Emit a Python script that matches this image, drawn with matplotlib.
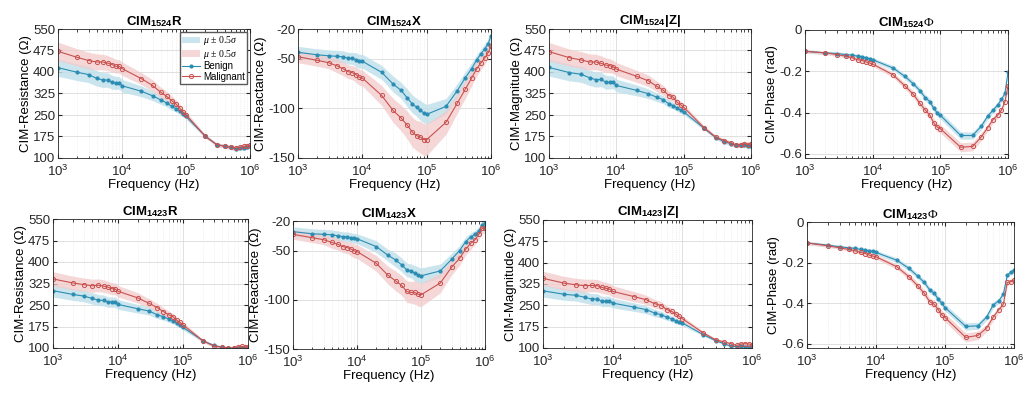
import numpy as np
import matplotlib
matplotlib.use("Agg")
import matplotlib.pyplot as plt
from matplotlib.ticker import LogLocator, FixedLocator, NullFormatter

plt.rcParams["font.family"] = ["Liberation Sans", "DejaVu Sans"]
plt.rcParams["mathtext.fontset"] = "custom"
plt.rcParams["mathtext.rm"] = "Liberation Serif"
plt.rcParams["mathtext.it"] = "Liberation Serif:italic"
plt.rcParams["mathtext.bf"] = "Liberation Sans:bold"

# measurement frequencies (Hz)
freq = [1e3, 2e3, 3e3, 4e3, 5e3, 6e3, 7e3, 8e3, 9e3,
        1e4, 2e4, 3e4, 4e4, 5e4, 6e4, 7e4, 8e4, 9e4,
        1e5, 2e5, 3e5, 4e5, 5e5, 6e5, 7e5, 8e5, 9e5, 1e6]

# ---- CIM 1524 ------------------------------------------------------------
r1524_ben = [415, 399, 391, 378, 372, 372, 364, 362, 362, 352, 333, 317, 303, 292,
             280, 272, 263, 255, 245, 176, 147, 141, 137, 131, 135, 135, 138, 141]
r1524_mal = [472, 451, 440, 435, 435, 431, 426, 420, 420, 412, 377, 353, 330, 315,
             300, 288, 274, 260, 251, 176, 147, 141, 138, 135, 137, 141, 141, 144]
r1524_ben_sd = [30, 29, 28, 27, 26, 25, 24, 23, 22, 22, 19, 17, 15, 14,
                13, 12, 11, 11, 10, 6, 6, 7, 7, 8, 8, 8, 8, 9]
r1524_mal_sd = [32, 30, 29, 28, 27, 26, 25, 24, 23, 23, 21, 20, 18, 17,
                16, 14, 13, 12, 11, 6, 6, 7, 7, 8, 8, 9, 9, 10]

x1524_ben = [-43.5, -46, -47, -47.5, -48, -49.5, -49.5, -51, -52.5, -52.5, -63.7, -75.4, -81.8, -89.5,
             -95.6, -99, -102, -104.6, -106, -98, -82, -69, -60, -51, -45, -40, -35, -27]
x1524_mal = [-48, -51.6, -54, -57, -60, -63, -64, -66, -68.7, -69.4, -87, -102, -109.7, -117,
             -124, -127.5, -129, -131.5, -131.5, -114, -94.6, -80.5, -69.4, -60, -54, -49, -44, -37]
x1524_ben_sd = [6, 6, 6, 6, 6, 6, 6, 7, 7, 7, 7, 8, 8, 9,
                9, 9, 10, 10, 10, 8, 7, 6, 6, 5, 5, 5, 5, 5]
x1524_mal_sd = [6, 6, 6, 7, 7, 7, 7, 8, 8, 8, 10, 12, 13, 14,
                15, 15, 16, 16, 16, 12, 10, 9, 8, 7, 7, 6, 6, 6]

z1524_ben = [416, 398, 392, 380, 373, 374, 364, 364, 364, 353, 336, 324, 312, 303,
             289, 283, 274, 267, 261, 204, 171, 157, 150, 144, 144, 145, 141, 141]
z1524_mal = [471, 450, 442, 435, 435, 430, 424, 422, 418, 410, 385, 369, 350, 336,
             318, 312, 294, 286, 277, 206, 173, 161, 153, 145, 147, 150, 147, 150]
z1524_ben_sd = [30, 29, 28, 27, 26, 25, 24, 23, 22, 22, 19, 17, 15, 14,
                13, 12, 11, 11, 10, 6, 6, 7, 7, 8, 8, 8, 8, 9]
z1524_mal_sd = [32, 30, 29, 28, 27, 26, 25, 24, 23, 23, 21, 20, 18, 17,
                16, 14, 13, 12, 11, 7, 6, 7, 7, 8, 8, 9, 9, 10]

p1524_ben = [-0.103, -0.111, -0.114, -0.119, -0.122, -0.127, -0.130, -0.135, -0.139, -0.144,
             -0.184, -0.225, -0.261, -0.294, -0.328, -0.347, -0.380, -0.401, -0.413,
             -0.511, -0.511, -0.467, -0.418, -0.388, -0.364, -0.336, -0.307, -0.205]
p1524_mal = [-0.103, -0.111, -0.119, -0.127, -0.135, -0.144, -0.148, -0.155, -0.160, -0.165,
             -0.217, -0.271, -0.312, -0.356, -0.388, -0.413, -0.450, -0.470, -0.478,
             -0.568, -0.564, -0.519, -0.473, -0.434, -0.413, -0.388, -0.347, -0.271]
p1524_ben_sd = [0.008, 0.008, 0.008, 0.008, 0.009, 0.009, 0.009, 0.010, 0.010, 0.010,
                0.012, 0.013, 0.014, 0.015, 0.015, 0.016, 0.016, 0.016, 0.017,
                0.018, 0.017, 0.016, 0.015, 0.014, 0.013, 0.012, 0.012, 0.012]
p1524_mal_sd = [0.008, 0.008, 0.008, 0.009, 0.009, 0.010, 0.010, 0.010, 0.011, 0.011,
                0.013, 0.015, 0.016, 0.018, 0.019, 0.020, 0.020, 0.021, 0.021,
                0.022, 0.021, 0.019, 0.017, 0.016, 0.015, 0.014, 0.013, 0.013]

# ---- CIM 1423 ------------------------------------------------------------
r1423_ben = [300, 287, 281, 273, 267, 266, 260, 260, 260, 252, 237, 229, 216, 209,
             201, 195, 186, 180, 172, 126, 109, 103, 101, 100, 100, 100, 101, 101]
r1423_mal = [341, 327, 321, 317, 319, 316, 312, 307, 306, 298, 275, 256, 241, 227,
             216, 209, 197, 189, 181, 126, 106, 103, 100, 100, 103, 106, 103, 103]
r1423_ben_sd = [22, 21, 20, 20, 19, 19, 18, 18, 18, 17, 15, 14, 13, 12,
                11, 10, 10, 9, 9, 5, 4, 4, 4, 4, 5, 5, 5, 5]
r1423_mal_sd = [25, 24, 23, 23, 22, 22, 21, 21, 20, 20, 18, 16, 15, 14,
                13, 12, 11, 10, 10, 6, 4, 4, 4, 4, 5, 5, 5, 5]

x1423_ben = [-30.8, -33, -33.5, -34, -35, -36, -36, -37, -37.6, -38, -46, -54.5, -59.5, -64.6,
             -69.7, -70.7, -73, -74.7, -75.7, -70.7, -59, -50, -41, -36, -33.5, -30, -24, -22.4]
x1423_mal = [-33.5, -37, -39, -41.6, -43.6, -46, -47, -48.4, -50.4, -51, -63, -74.7, -80.8, -85.5,
             -91.6, -92.6, -92.6, -94.3, -95, -83, -67, -58, -48.4, -42.6, -39, -33.5, -27.4, -27.4]
x1423_ben_sd = [5, 5, 5, 5, 5, 5, 5, 5, 5, 5, 6, 6, 7, 7,
                7, 7, 8, 8, 8, 7, 6, 5, 5, 4, 4, 4, 4, 4]
x1423_mal_sd = [5, 5, 5, 6, 6, 6, 6, 7, 7, 7, 8, 9, 10, 10,
                11, 11, 12, 12, 12, 10, 8, 7, 6, 6, 5, 5, 5, 5]

z1423_ben = [301, 289, 285, 278, 272, 272, 264, 264, 264, 258, 244, 235, 223, 217,
             208, 203, 196, 191, 188, 147, 126, 115, 106, 105, 106, 105, 104, 105]
z1423_mal = [345, 328, 322, 319, 320, 319, 313, 310, 307, 299, 281, 270, 256, 249,
             235, 229, 220, 211, 203, 153, 129, 121, 115, 109, 114, 115, 114, 112]
z1423_ben_sd = [22, 21, 20, 20, 19, 19, 18, 18, 18, 17, 15, 14, 13, 12,
                11, 10, 10, 9, 9, 5, 4, 4, 4, 4, 5, 5, 5, 5]
z1423_mal_sd = [25, 24, 23, 23, 22, 22, 21, 21, 20, 20, 18, 16, 15, 14,
                13, 12, 11, 10, 10, 6, 5, 5, 5, 5, 5, 6, 6, 6]

p1423_ben = [-0.103, -0.114, -0.122, -0.127, -0.130, -0.135, -0.139, -0.142, -0.144, -0.150,
             -0.188, -0.228, -0.266, -0.297, -0.334, -0.351, -0.380, -0.400, -0.421,
             -0.514, -0.511, -0.468, -0.408, -0.388, -0.356, -0.261, -0.248, -0.237]
p1423_mal = [-0.103, -0.117, -0.127, -0.135, -0.142, -0.150, -0.155, -0.163, -0.168, -0.171,
             -0.220, -0.269, -0.313, -0.351, -0.392, -0.405, -0.432, -0.457, -0.470,
             -0.568, -0.558, -0.522, -0.468, -0.432, -0.405, -0.297, -0.294, -0.285]
p1423_ben_sd = p1524_ben_sd
p1423_mal_sd = p1524_mal_sd

BLUE = "#2b8db3"
BLUE_FILL = "#c2e1ec"
RED = "#c9514f"
RED_FILL = "#f2caca"

r_ticks = [100, 175, 250, 325, 400, 475, 550]
x_ticks = [-150, -100, -50, -20]
p_ticks = [-0.6, -0.4, -0.2, 0]

panels = [
    # (position in pixels: left, top, width, height), title, ylabel, data, ylim, yticks
    ((58, 29, 192, 129), r"$\mathbf{CIM}_{\mathbf{1524}}\mathbf{R}$", "CIM-Resistance (Ω)",
     (r1524_ben, r1524_ben_sd, r1524_mal, r1524_mal_sd), (100, 550), r_ticks),
    ((298, 29, 193, 129), r"$\mathbf{CIM}_{\mathbf{1524}}\mathbf{X}$", "CIM-Reactance (Ω)",
     (x1524_ben, x1524_ben_sd, x1524_mal, x1524_mal_sd), (-150, -20), x_ticks),
    ((549, 29, 202, 129), r"$\mathbf{CIM}_{\mathbf{1524}}\mathbf{|Z|}$", "CIM-Magnitude (Ω)",
     (z1524_ben, z1524_ben_sd, z1524_mal, z1524_mal_sd), (100, 550), r_ticks),
    ((805, 30, 203, 128), r"$\mathbf{CIM}_{\mathbf{1524}}\Phi$", "CIM-Phase (rad)",
     (p1524_ben, p1524_ben_sd, p1524_mal, p1524_mal_sd), (-0.62, 0), p_ticks),
    ((53, 219, 195, 129), r"$\mathbf{CIM}_{\mathbf{1423}}\mathbf{R}$", "CIM-Resistance (Ω)",
     (r1423_ben, r1423_ben_sd, r1423_mal, r1423_mal_sd), (100, 550), r_ticks),
    ((293, 221, 192, 128), r"$\mathbf{CIM}_{\mathbf{1423}}\mathbf{X}$", "CIM-Reactance (Ω)",
     (x1423_ben, x1423_ben_sd, x1423_mal, x1423_mal_sd), (-150, -20), x_ticks),
    ((543, 220, 209, 128), r"$\mathbf{CIM}_{\mathbf{1423}}\mathbf{|Z|}$", "CIM-Magnitude (Ω)",
     (z1423_ben, z1423_ben_sd, z1423_mal, z1423_mal_sd), (100, 550), r_ticks),
    ((807, 222, 207, 126), r"$\mathbf{CIM}_{\mathbf{1423}}\Phi$", "CIM-Phase (rad)",
     (p1423_ben, p1423_ben_sd, p1423_mal, p1423_mal_sd), (-0.62, 0), p_ticks),
]

W, H = 1029, 393
fig = plt.figure(figsize=(W / 100, H / 100), dpi=100)
f = np.array(freq)

for i, ((left, top, w, h), title, ylabel, (ben, ben_sd, mal, mal_sd), ylim, yticks) in enumerate(panels):
    ax = fig.add_axes([left / W, 1 - (top + h) / H, w / W, h / H])
    ben, ben_sd = np.array(ben), np.array(ben_sd)
    mal, mal_sd = np.array(mal), np.array(mal_sd)

    ax.fill_between(f, ben - ben_sd, ben + ben_sd, color=BLUE_FILL, lw=0,
                    alpha=0.85, label=r"$\mu\,\pm\,0.5\sigma$")
    ax.fill_between(f, mal - mal_sd, mal + mal_sd, color=RED_FILL, lw=0,
                    alpha=0.75, label=r"$\mu\,\pm\,0.5\sigma$")
    ax.plot(f, ben, color=BLUE, lw=0.8, marker=".", ms=4, label="Benign")
    ax.plot(f, mal, color=RED, lw=0.8, marker="o", ms=3, mfc="none", mew=0.7,
            label="Malignant")

    ax.set_xscale("log")
    ax.set_xlim(1e3, 1e6)
    ax.set_ylim(*ylim)
    ax.yaxis.set_major_locator(FixedLocator(yticks))
    ax.set_yticklabels([f"{t:g}" for t in yticks])
    ax.xaxis.set_major_locator(LogLocator(base=10, numticks=10))
    ax.xaxis.set_minor_locator(LogLocator(base=10, subs=np.arange(2, 10), numticks=10))
    ax.xaxis.set_minor_formatter(NullFormatter())

    ax.grid(which="major", color="0.86", lw=0.6)
    ax.grid(which="minor", axis="x", color="0.9", lw=0.5, ls=":")
    ax.set_axisbelow(True)
    ax.tick_params(which="both", direction="in", colors="0.15", labelsize=9.5,
                   top=True, right=True)
    ax.tick_params(axis="y", pad=2)
    ax.tick_params(axis="x", pad=4)
    ax.tick_params(which="major", length=3)
    ax.tick_params(which="minor", length=1.8)
    for s in ax.spines.values():
        s.set_color("0.15")
        s.set_linewidth(0.6)

    ax.set_title(title, fontsize=9.5, pad=3)
    ax.set_xlabel("Frequency (Hz)", fontsize=9.5, labelpad=0)
    ax.set_ylabel(ylabel, fontsize=9.5, labelpad=1)

    if i == 0:
        ax.legend(loc="upper right", fontsize=7, handlelength=1.8, handletextpad=0.3,
                  labelspacing=0.05, borderpad=0.25, borderaxespad=0.3,
                  fancybox=False, framealpha=1, edgecolor="0.35")

fig.savefig("out.png", dpi=100)
